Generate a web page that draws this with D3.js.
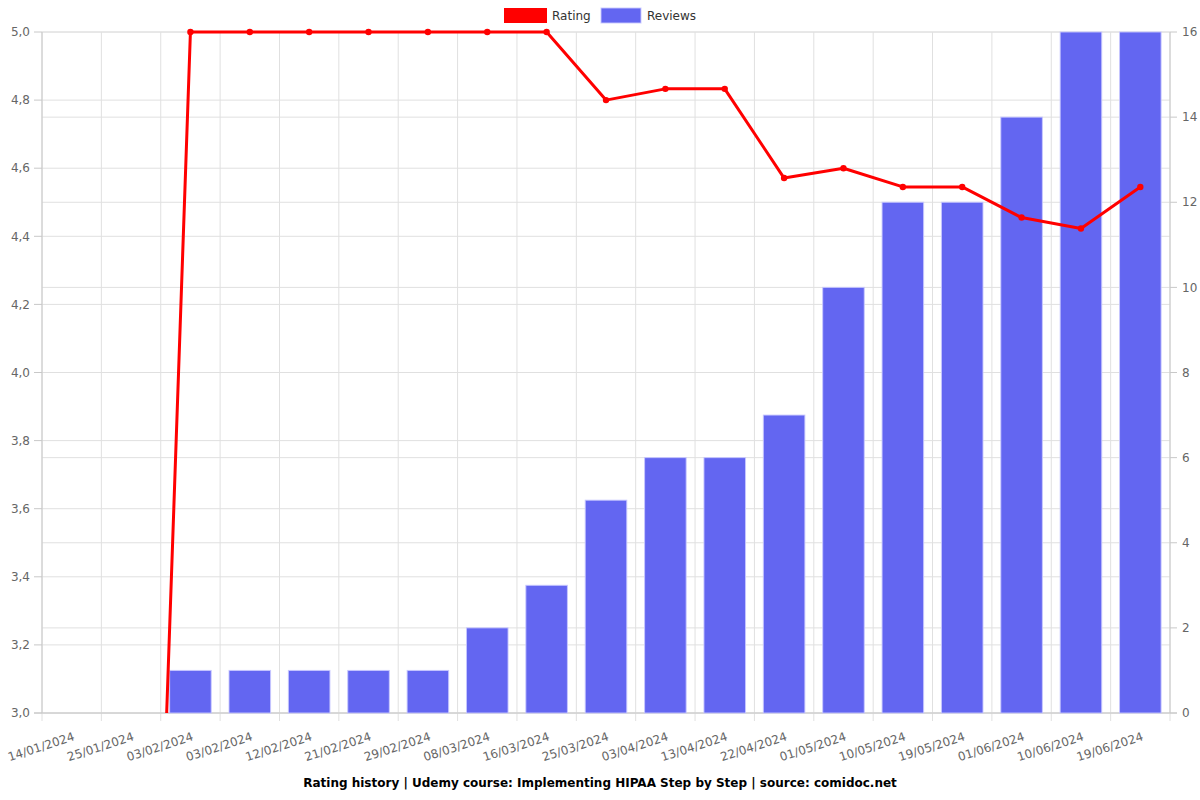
<!DOCTYPE html>
<html><head><meta charset="utf-8">
<script src="https://cdn.jsdelivr.net/npm/d3@7"></script>
<style>body{margin:0;background:#fff}svg{display:block}text{font-family:"DejaVu Sans",sans-serif}</style>
</head><body><svg id="c" width="1200" height="800"></svg>
<script>
const categories = ["14/01/2024","25/01/2024","03/02/2024","03/02/2024","12/02/2024","21/02/2024","29/02/2024","08/03/2024","16/03/2024","25/03/2024","03/04/2024","13/04/2024","22/04/2024","01/05/2024","10/05/2024","19/05/2024","01/06/2024","10/06/2024","19/06/2024"];
const ratings = [0,0,5,5,5,5,5,5,5,4.8,4.833,4.833,4.571,4.6,4.545,4.545,4.455,4.423,4.545];
const reviews = [0,0,1,1,1,1,1,2,3,5,6,6,7,10,12,12,14,16,16];
const ratingTicks = [3.0,3.2,3.4,3.6,3.8,4.0,4.2,4.4,4.6,4.8,5.0];
const reviewTicks = [0,2,4,6,8,10,12,14,16];
const title = "Rating history | Udemy course: Implementing HIPAA Step by Step | source: comidoc.net";

const svg = d3.select("#c");
const L = 42, R = 1170, T = 32, B = 713;
const x = d3.scaleBand().domain(d3.range(categories.length)).range([L, R]);
const yL = d3.scaleLinear().domain([3, 5]).range([B, T]);
const yR = d3.scaleLinear().domain([0, 16]).range([B, T]);
const fmt = d => d.toFixed(1).replace(".", ",");

// grid
const g = svg.append("g");
ratingTicks.forEach(t => g.append("line").attr("x1", L).attr("x2", R).attr("y1", yL(t)).attr("y2", yL(t)).attr("stroke", "#e0e0e0"));
reviewTicks.forEach(t => g.append("line").attr("x1", L).attr("x2", R).attr("y1", yR(t)).attr("y2", yR(t)).attr("stroke", "#e0e0e0"));
const bounds = d3.range(categories.length + 1).map(i => i < categories.length ? x(i) : R);
bounds.forEach(b => g.append("line").attr("x1", b).attr("x2", b).attr("y1", T).attr("y2", B + 8).attr("stroke", "#e0e0e0"));
// axis lines
g.append("line").attr("x1", L - 8).attr("x2", R + 7).attr("y1", B).attr("y2", B).attr("stroke", "#c8c8c8");
g.append("line").attr("x1", L).attr("x2", L).attr("y1", T).attr("y2", B).attr("stroke", "#c8c8c8");
g.append("line").attr("x1", R).attr("x2", R).attr("y1", T).attr("y2", B).attr("stroke", "#c8c8c8");
ratingTicks.forEach(t => g.append("line").attr("x1", L - 8).attr("x2", L).attr("y1", yL(t)).attr("y2", yL(t)).attr("stroke", "#c8c8c8"));
reviewTicks.forEach(t => g.append("line").attr("x1", R).attr("x2", R + 7).attr("y1", yR(t)).attr("y2", yR(t)).attr("stroke", "#c8c8c8"));

// axis labels
svg.append("g").selectAll("text").data(ratingTicks).join("text")
  .attr("x", L - 12).attr("y", d => yL(d)).attr("dy", "0.35em").attr("text-anchor", "end")
  .attr("font-size", 12).attr("fill", "#666").text(fmt);
svg.append("g").selectAll("text").data(reviewTicks).join("text")
  .attr("x", R + 12).attr("y", d => yR(d)).attr("dy", "0.35em").attr("text-anchor", "start")
  .attr("font-size", 12).attr("fill", "#666").text(d => d);
svg.append("g").selectAll("text").data(categories).join("text")
  .attr("transform", (d, i) => `translate(${x(i) + x.bandwidth() / 2 + 1},${B + 19}) rotate(-18)`)
  .attr("text-anchor", "end").attr("dy", "0.7em").attr("font-size", 12).attr("fill", "#666").text(d => d);

// bars
const bw = x.bandwidth() * 0.7;
svg.append("g").selectAll("rect").data(reviews).join("rect")
  .attr("x", (d, i) => x(i) + (x.bandwidth() - bw) / 2).attr("width", bw)
  .attr("y", d => yR(d)).attr("height", d => B - yR(d))
  .attr("fill", "#6366f1").attr("stroke", "rgba(200,200,255,0.9)").attr("stroke-width", 1)
  .attr("display", d => d > 0 ? null : "none");

// line
svg.append("clipPath").attr("id", "clip").append("rect").attr("x", L).attr("y", T - 5).attr("width", R - L).attr("height", B - T + 5);
const cx = i => x(i) + x.bandwidth() / 2;
const line = d3.line().x((d, i) => cx(i)).y(d => yL(d));
const lg = svg.append("g").attr("clip-path", "url(#clip)");
lg.append("path").datum(ratings).attr("d", line).attr("fill", "none").attr("stroke", "#ff0000").attr("stroke-width", 3).attr("stroke-linejoin", "round");
lg.selectAll("circle").data(ratings).join("circle").attr("cx", (d, i) => cx(i)).attr("cy", d => yL(d)).attr("r", 3.2).attr("fill", "#ff0000");

// legend
const leg = svg.append("g");
leg.append("rect").attr("x", 504).attr("y", 8).attr("width", 43).attr("height", 15).attr("fill", "#ff0000");
leg.append("text").attr("x", 552).attr("y", 16).attr("dy", "0.35em").attr("font-size", 12).attr("fill", "#333").text("Rating");
leg.append("rect").attr("x", 601).attr("y", 8).attr("width", 40).attr("height", 15).attr("fill", "#6366f1").attr("stroke", "rgba(200,200,255,0.9)");
leg.append("text").attr("x", 647).attr("y", 16).attr("dy", "0.35em").attr("font-size", 12).attr("fill", "#333").text("Reviews");

// title
svg.append("text").attr("x", 600).attr("y", 783).attr("dy", "0.35em").attr("text-anchor", "middle")
  .attr("font-size", 12).attr("font-weight", "bold").attr("fill", "#000").text(title);
</script></body></html>
